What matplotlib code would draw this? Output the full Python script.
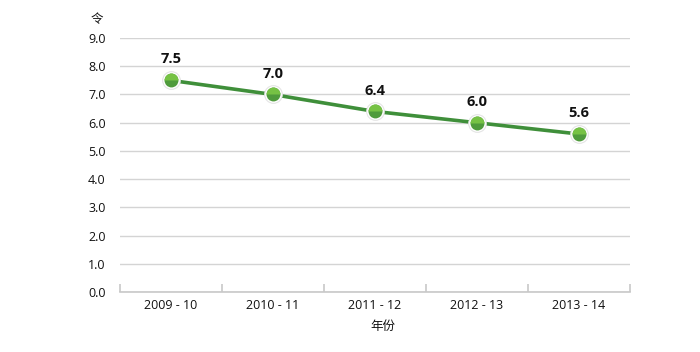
import matplotlib
matplotlib.use("Agg")
import matplotlib.pyplot as plt

plt.rcParams['font.family'] = ['Open Sans', 'Noto Sans CJK SC', 'DejaVu Sans']

years = ["2009 - 10", "2010 - 11", "2011 - 12", "2012 - 13", "2013 - 14"]
values = [7.5, 7.0, 6.4, 6.0, 5.6]
y_ticks = [0.0, 1.0, 2.0, 3.0, 4.0, 5.0, 6.0, 7.0, 8.0, 9.0]

fig = plt.figure(figsize=(7, 3.52), dpi=100)
ax = fig.add_axes([0.171, 0.170, 0.729, 0.722])

x = list(range(len(years)))
ax.plot(x, values, color="#3f8f3a", linewidth=2.6, zorder=3)
# soft halo, white ring, then two-tone fill
ax.plot(x, values, linestyle="none", marker="o", markersize=13.5,
        markerfacecolor="#e3e3e3", markeredgewidth=0, zorder=4)
ax.plot(x, values, linestyle="none", marker="o", markersize=12,
        markerfacecolor="white", markeredgewidth=0, zorder=5)
ax.plot(x, values, linestyle="none", marker="o", markersize=10,
        markerfacecolor="#4f9b3c", markeredgewidth=0, zorder=6)
ax.plot(x, values, linestyle="none", marker="o", markersize=10,
        fillstyle="top", markerfacecolor="#76c244", markerfacecoloralt="none",
        markeredgewidth=0, zorder=7)

for xi, v in zip(x, values):
    ax.annotate(f"{v:.1f}", (xi, v), xytext=(0, 10), textcoords="offset points",
                ha="center", va="bottom", fontsize=10.5, fontweight="bold", color="#111111")

ax.set_xlim(-0.5, len(years) - 0.5)
ax.set_ylim(0, 9)
ax.set_yticks(y_ticks)
ax.set_yticklabels([f"{t:.1f}" for t in y_ticks], fontsize=9)
ax.set_xticks(x)
ax.set_xticklabels(years, fontsize=9)
ax.set_xticks([i - 0.5 for i in range(len(years) + 1)], minor=True)

ax.grid(axis="y", color="#d4d4d4", linewidth=1.0)
ax.set_axisbelow(True)
for s in ["top", "right", "left"]:
    ax.spines[s].set_visible(False)
ax.spines["bottom"].set_color("#c8c8c8")
ax.spines["bottom"].set_linewidth(1.2)

ax.tick_params(axis="y", length=0, pad=10, colors="#111111")
ax.tick_params(axis="x", which="major", length=0, pad=5, colors="#111111")
ax.tick_params(axis="x", which="minor", direction="in", length=6, color="#c8c8c8", width=1.2)

fig.text(0.139, 0.945, "令", fontsize=9, ha="center", va="center", color="#111111")
fig.text(0.547, 0.072, "年份", fontsize=9, ha="center", va="center", color="#111111")

fig.savefig("out.png", dpi=100)
